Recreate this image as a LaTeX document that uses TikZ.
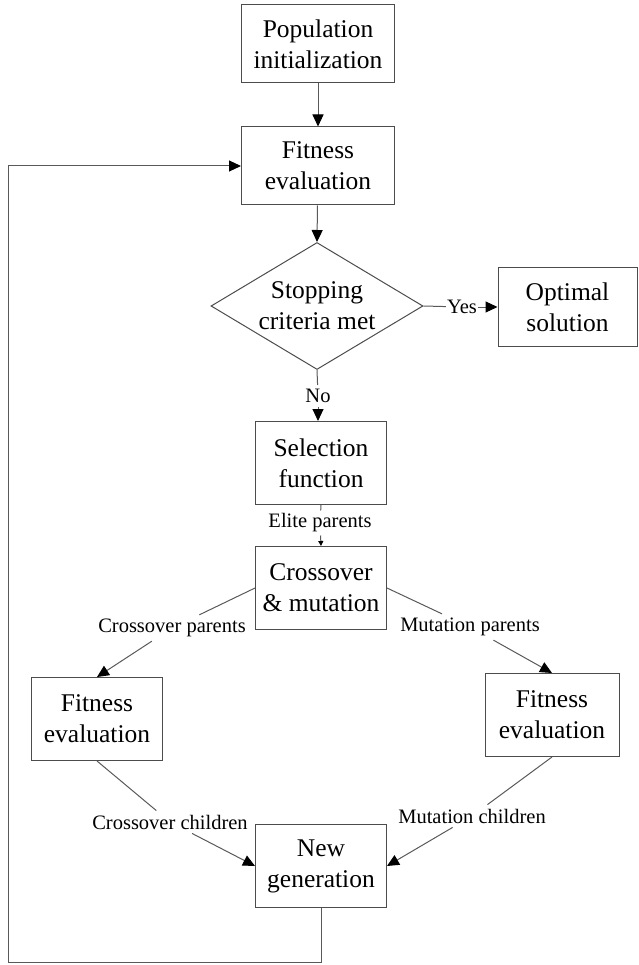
\documentclass[tikz,border=0pt]{standalone}
\usepackage{fontspec}
\setmainfont{Liberation Serif}
\usetikzlibrary{shapes.geometric,arrows.meta}
\begin{document}
\begin{tikzpicture}[x=1pt,y=-1pt,
  boxfont/.style={font=\fontsize{25.5}{31}\selectfont},
  box/.style={draw=black!70, line width=1pt, minimum width=131pt, minimum height=83pt, inner sep=0pt, align=center, boxfont},
  wbox/.style={box, minimum width=153pt, minimum height=78pt},
  lab/.style={inner sep=4pt, font=\fontsize{20.5}{24}\selectfont},
  conn/.style={draw=black!65, line width=1pt},
  arr/.style={conn, -{Triangle[length=12pt,width=11pt,black]}},
  smallarr/.style={conn, -{Triangle[length=5pt,width=5pt,black]}},
]
\useasboundingbox (0,0) rectangle (638,965);
% nodes
\node[wbox] (pop) at (318,44) {Population\\initialization};
\node[wbox] (fit) at (318,166) {Fitness\\evaluation};
\node[draw=black!70, line width=1pt, diamond, minimum width=212pt, minimum height=127pt, inner sep=0pt] (dia) at (317,306) {};
\node[boxfont, align=center, inner sep=0pt] (diat) at (dia.center) {Stopping\\criteria met};
\node[box, minimum width=139pt, minimum height=78pt] (opt) at (567.5,307) {Optimal\\solution};
\node[box] (sel) at (321,463) {Selection\\function};
\node[box] (cm) at (321,588) {Crossover\\\&\ mutation};
\node[box] (lf) at (97,719) {Fitness\\evaluation};
\node[box, minimum width=134pt] (rf) at (552,715) {Fitness\\evaluation};
\node[box] (ng) at (321,866) {New\\generation};
% labels
\node[lab, inner sep=1pt] (yes) at (462,307) {Yes};
\node[lab] (no) at (318,396) {No};
\node[lab, inner sep=3pt] (elite) at (320,523) {Elite parents};
\node[lab] (cp) at (172,628) {Crossover parents};
\node[lab] (mp) at (470,627) {Mutation parents};
\node[lab] (cc) at (170,822) {Crossover children};
\node[lab] (mc) at (472,816) {Mutation children};
\coordinate (lb) at (8,962);
% connectors
\draw[arr] (pop) -- (fit);
\draw[arr] (fit) -- (dia.north);
\draw[conn] (dia.east) -- (yes);
\draw[arr] (yes) -- (opt.west);
\draw[conn] (dia.south) -- (no);
\draw[arr] (no) -- (no |- sel.north);
\draw[conn] (sel.south) -- (elite);
\draw[smallarr] (elite) -- (cm.north);
\draw[conn] (cm.west) -- (cp);
\draw[arr] (cp) -- (lf.north);
\draw[conn] (cm.east) -- (mp);
\draw[arr] (mp) -- (rf.north);
\draw[conn] (lf.south) -- (cc);
\draw[arr] (cc) -- (ng.west);
\draw[conn] (rf.south) -- (mc);
\draw[arr] (mc) -- (ng.east);
\draw[arr] (ng.south) |- (lb) |- (fit.west);
\end{tikzpicture}
\end{document}
